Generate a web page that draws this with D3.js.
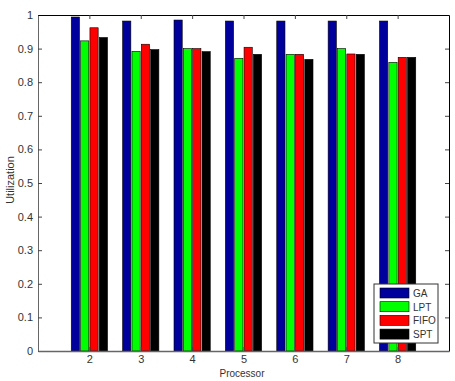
<!DOCTYPE html>
<html>
<head>
<meta charset="UTF-8">
<style>
  body { margin: 0; background: #fff; font-family: "Liberation Sans", Arial, sans-serif; }
  .tick text { font-size: 11px; fill: #333; }
</style>
</head>
<body>
<script src="https://d3js.org/d3.v7.min.js"></script>
<script>
const processors = [2, 3, 4, 5, 6, 7, 8];
const seriesNames = ["GA", "LPT", "FIFO", "SPT"];
const ga   = [0.994, 0.982, 0.985, 0.982, 0.982, 0.982, 0.982];
const lpt  = [0.923, 0.892, 0.900, 0.871, 0.883, 0.900, 0.859];
const fifo = [0.962, 0.913, 0.900, 0.904, 0.883, 0.884, 0.874];
const spt  = [0.933, 0.897, 0.891, 0.883, 0.868, 0.883, 0.874];
const yTicks = [0, 0.1, 0.2, 0.3, 0.4, 0.5, 0.6, 0.7, 0.8, 0.9, 1];
const colors = ["#00009c", "#00ff00", "#ff0000", "#000000"];

const series = [ga, lpt, fifo, spt];
const W = 455, H = 381;
const mLeft = 38, mRight = 449, mTop = 15, mBottom = 351;

const svg = d3.select("body").append("svg").attr("width", W).attr("height", H);

const x = d3.scaleLinear().domain([1, 9]).range([mLeft, mRight]);
const y = d3.scaleLinear().domain([0, 1]).range([mBottom, mTop]);

// grouped bars, matlab style
const groupW = 4 / 5.5;
const slot = groupW / 4;
const barW = slot * 0.88;

series.forEach((vals, s) => {
  svg.append("g").selectAll("rect")
    .data(vals)
    .join("rect")
    .attr("x", (d, i) => x(processors[i] - groupW / 2 + s * slot + (slot - barW) / 2))
    .attr("width", x(1 + barW) - x(1))
    .attr("y", d => y(d))
    .attr("height", d => y(0) - y(d))
    .attr("fill", colors[s])
    .attr("stroke", "#000")
    .attr("stroke-width", 0.6);
});

// axes
const yAxis = d3.axisLeft(y).tickValues(yTicks).tickSizeInner(-4).tickSizeOuter(0)
  .tickPadding(5).tickFormat(d => d === 0 || d === 1 ? d : d3.format(".1f")(d));
svg.append("g").attr("transform", `translate(${mLeft},0)`).call(yAxis)
  .call(g => g.select(".domain").attr("stroke", "#666"))
  .call(g => g.selectAll(".tick line").attr("stroke", "#444"));

const yAxisR = d3.axisRight(y).tickValues(yTicks).tickSizeInner(-4).tickSizeOuter(0).tickFormat("");
svg.append("g").attr("transform", `translate(${mRight},0)`).call(yAxisR)
  .call(g => g.select(".domain").attr("stroke", "#000"))
  .call(g => g.selectAll(".tick line").attr("stroke", "#444"));

const xAxis = d3.axisBottom(x).tickValues(processors).tickSizeInner(-4).tickSizeOuter(0).tickPadding(4);
svg.append("g").attr("transform", `translate(0,${mBottom})`).call(xAxis)
  .call(g => g.select(".domain").attr("stroke", "#666").attr("stroke-width", 1.5))
  .call(g => g.selectAll(".tick line").attr("stroke", "#444"));

const xAxisT = d3.axisTop(x).tickValues(processors).tickSizeInner(-4).tickSizeOuter(0).tickFormat("");
svg.append("g").attr("transform", `translate(0,${mTop})`).call(xAxisT)
  .call(g => g.select(".domain").attr("stroke", "#000"))
  .call(g => g.selectAll(".tick line").attr("stroke", "#444"));

// axis labels
svg.append("text").attr("x", 242).attr("y", 377)
  .attr("text-anchor", "middle").attr("font-size", 10).attr("fill", "#333").text("Processor");
svg.append("text").attr("transform", `translate(14,180) rotate(-90)`)
  .attr("text-anchor", "middle").attr("font-size", 11).attr("fill", "#333").text("Utilization");

// legend
const lg = svg.append("g").attr("transform", "translate(374,284)");
lg.append("rect").attr("width", 64).attr("height", 59)
  .attr("fill", "#fff").attr("stroke", "#333");
seriesNames.forEach((name, i) => {
  const cy = 9 + i * 13.7;
  lg.append("rect").attr("x", 6).attr("y", cy - 5).attr("width", 29).attr("height", 10)
    .attr("fill", colors[i]).attr("stroke", "#000").attr("stroke-width", 0.6);
  lg.append("text").attr("x", 39).attr("y", cy + 4).attr("font-size", 10)
    .attr("fill", "#333").text(name);
});
</script>
</body>
</html>
